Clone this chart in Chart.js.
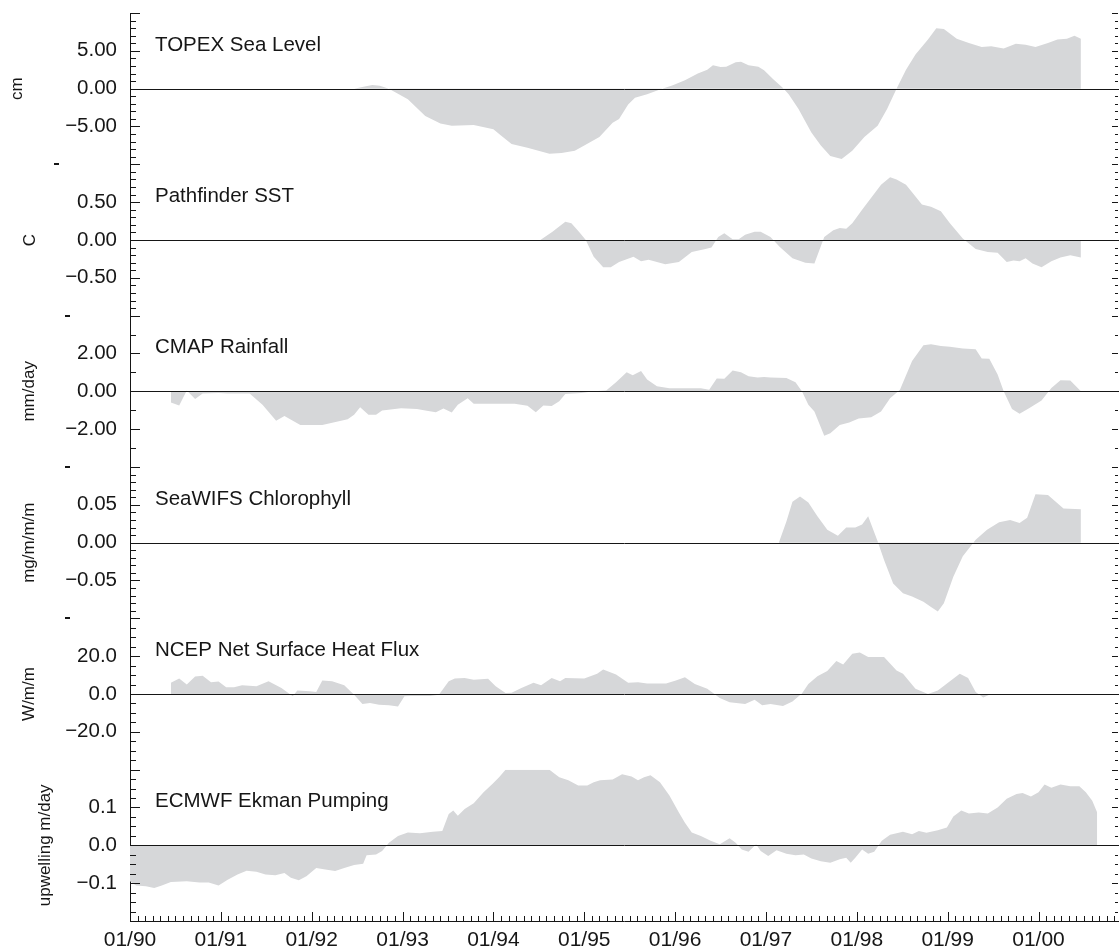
<!DOCTYPE html>
<html>
<head>
<meta charset="utf-8">
<script src="https://cdn.jsdelivr.net/npm/chart.js@4.4.1/dist/chart.umd.min.js"></script>
<style>
  html, body { margin: 0; padding: 0; background: #fff; }
  #c { display: block; }
</style>
</head>
<body>
<canvas id="c" width="1119" height="950"></canvas>
<script>
// Time axis: months since January 1990
const yearLabels = ['01/90','01/91','01/92','01/93','01/94','01/95','01/96','01/97','01/98','01/99','01/00'];

// TOPEX sea level anomaly (cm)
const topexMonths = [29.6, 31, 32, 33, 34.2, 36.7, 39, 41, 42.5, 45.4, 48, 49, 50.4, 52.5, 55.4, 57, 58.75, 60, 62, 63.75, 64.6, 65.8, 66.7, 68.3, 70, 71.7, 73.3, 75, 76.25, 77, 78, 78.75, 80, 80.7, 81.7, 83, 83.75, 85, 86.25, 87, 88.3, 90, 91.25, 92.5, 94, 95.4, 97, 98.75, 100, 101.25, 102.5, 103.75, 105.4, 106.5, 107.5, 109.2, 110.8, 112.5, 113.75, 115.4, 117, 118.3, 119.6, 121.25, 122.5, 123.75, 124.75, 125.6];
const topexValues = [0, 0.3, 0.5, 0.4, 0, -1.4, -3.6, -4.6, -4.9, -4.8, -5.35, -6.2, -7.3, -7.8, -8.6, -8.5, -8.2, -7.5, -6.4, -4.5, -4.0, -2.1, -1.2, -0.75, -0.1, 0.45, 1.1, 2.0, 2.5, 3.1, 2.85, 2.9, 3.5, 3.55, 3.1, 2.9, 2.45, 1.2, 0.1, -0.75, -2.7, -5.8, -7.5, -8.9, -9.3, -8.2, -6.4, -4.9, -2.7, 0, 2.5, 4.5, 6.5, 8.0, 7.9, 6.6, 6.05, 5.5, 5.6, 5.3, 5.95, 5.8, 5.5, 6.05, 6.5, 6.6, 7.0, 6.6];

// Pathfinder SST anomaly (C)
const sstMonths = [54.2, 55.8, 57.5, 58.3, 59.3, 60.2, 61.25, 62.5, 63.5, 64.6, 66.5, 67.5, 68.5, 69.6, 70.7, 72.5, 74.2, 76, 76.8, 77.7, 78.5, 79.6, 80.4, 81.25, 82.5, 83.3, 84.6, 85.8, 87.5, 89.2, 90.4, 91.7, 92.9, 93.75, 94.6, 95.4, 96.7, 97.9, 99.2, 100.4, 101.25, 102.5, 103.3, 104.6, 105.8, 107.1, 108.3, 110, 111.7, 113.3, 114.6, 115.8, 116.7, 117.5, 118.3, 119.2, 120.4, 121.7, 122.9, 124.2, 125.6];
const sstValues = [0, 0.11, 0.24, 0.22, 0.11, 0, -0.22, -0.36, -0.36, -0.29, -0.22, -0.28, -0.26, -0.29, -0.32, -0.29, -0.16, -0.12, -0.10, 0.04, 0.09, 0.01, 0.01, 0.07, 0.11, 0.11, 0.04, -0.09, -0.24, -0.30, -0.31, 0.04, 0.13, 0.16, 0.15, 0.22, 0.40, 0.56, 0.73, 0.83, 0.80, 0.73, 0.63, 0.47, 0.44, 0.38, 0.22, 0.02, -0.12, -0.16, -0.17, -0.29, -0.27, -0.28, -0.24, -0.31, -0.36, -0.28, -0.23, -0.20, -0.23];

// CMAP rainfall anomaly (mm/day)
const cmapMonths = [5.4, 6.5, 7.5, 8.6, 9.6, 11.7, 12.9, 15.8, 17.5, 19.3, 20.4, 22.5, 25.4, 28.75, 29.6, 30.4, 31.5, 32.5, 33.3, 35.8, 37.9, 39.2, 40.4, 41.4, 42.5, 43.3, 44.6, 45.4, 50.8, 52.5, 53.6, 54.6, 55.7, 56.7, 57.5, 59.6, 61.25, 62.9, 64.2, 65.6, 66.4, 67.5, 68.3, 69.6, 71.25, 75.4, 76.5, 77.5, 78.5, 79.6, 80.7, 81.7, 82.9, 83.75, 84.6, 86.7, 87.9, 88.75, 89.6, 90.4, 91.7, 92.5, 93.75, 95, 96.25, 97.9, 99.2, 100.4, 101.7, 103.3, 104.8, 105.8, 107.1, 108.3, 110, 111.7, 112.5, 113.5, 114.6, 115.4, 116.5, 117.5, 118.75, 120.4, 121.7, 122.9, 124.2, 125.6];
const cmapValues = [-0.59, -0.75, 0.05, -0.41, -0.12, -0.09, -0.12, -0.12, -0.71, -1.56, -1.3, -1.78, -1.78, -1.48, -1.24, -0.84, -1.24, -1.24, -1.01, -0.89, -0.94, -1.03, -1.10, -0.91, -1.12, -0.71, -0.36, -0.66, -0.66, -0.76, -1.10, -0.75, -0.77, -0.53, -0.14, -0.09, 0, 0.04, 0.48, 1.01, 0.85, 1.07, 0.62, 0.27, 0.16, 0.16, 0.09, 0.68, 0.66, 1.10, 1.01, 0.80, 0.73, 0.76, 0.73, 0.71, 0.48, 0, -0.71, -1.07, -2.35, -2.22, -1.78, -1.65, -1.44, -1.37, -1.07, -0.36, 0.09, 1.6, 2.44, 2.49, 2.4, 2.36, 2.26, 2.22, 1.74, 1.72, 0.89, 0, -0.94, -1.19, -0.89, -0.48, 0.18, 0.59, 0.57, 0];

// SeaWiFS chlorophyll anomaly (mg/m/m/m)
const chlMonths = [85.7, 86.7, 87.5, 88.5, 89.6, 90.8, 92.1, 93.5, 94.6, 95.8, 96.7, 97.5, 98.75, 99.6, 100.8, 102.1, 103.3, 104.8, 105.8, 106.7, 107.5, 108.75, 110, 111.7, 113.2, 114.8, 116.25, 117.5, 118.5, 119.6, 121.25, 123.3, 125.6];
const chlValues = [0, 0.028, 0.054, 0.061, 0.053, 0.035, 0.017, 0.009, 0.020, 0.020, 0.024, 0.035, 0.002, -0.023, -0.054, -0.067, -0.071, -0.078, -0.085, -0.091, -0.080, -0.045, -0.018, 0.004, 0.017, 0.027, 0.030, 0.026, 0.033, 0.064, 0.063, 0.045, 0.044];

// NCEP net surface heat flux anomaly (W/m/m)
const fluxMonths = [5.4, 6.5, 7.5, 8.6, 9.6, 10.7, 11.7, 12.7, 13.75, 14.8, 16.7, 18.3, 20, 21.5, 22.1, 23.75, 24.6, 25.4, 26.7, 28.3, 29.6, 30.7, 31.7, 32.9, 34.2, 35.4, 36.25, 37.1, 39.6, 40.8, 42.1, 42.9, 44.2, 45.4, 47.3, 48.3, 49.6, 50.4, 51.7, 53.3, 54.3, 55.7, 56.8, 57.5, 60, 61.7, 62.5, 64.2, 65.8, 67.1, 68.3, 70.8, 72.1, 73.3, 74.6, 76.25, 77.9, 79.2, 81.25, 82.5, 83.5, 84.6, 86.25, 87.5, 88.75, 89.6, 90.8, 92.1, 93.3, 94.2, 95.4, 96.4, 97.5, 99.6, 101.25, 102.1, 103.75, 105.4, 106.7, 108.3, 109.6, 110.7, 111.7, 112.7, 113.5, 114];
const fluxValues = [5.9, 8.2, 5.0, 9.2, 9.6, 6.2, 6.6, 3.6, 3.6, 4.6, 4.1, 6.8, 3.2, -1.2, 1.8, 1.4, 1.1, 7.1, 6.8, 4.6, -0.4, -5.3, -4.8, -5.7, -6.0, -6.6, -1.2, -1.1, -1.1, -0.4, 6.8, 8.2, 8.5, 7.5, 8.0, 4.1, 0.5, 0.7, 3.2, 5.9, 4.6, 8.5, 6.8, 8.5, 8.2, 10.7, 13.0, 10.3, 5.9, 6.2, 5.5, 5.5, 7.1, 8.9, 5.3, 2.8, -2.1, -4.3, -5.3, -3.0, -6.0, -5.3, -6.4, -3.9, 0.2, 5.3, 9.4, 12.1, 17.4, 15.6, 21.3, 21.9, 19.6, 19.6, 12.4, 10.7, 2.8, 0, 1.8, 6.8, 10.7, 8.5, 1.1, -1.8, -0.4, 0];

// ECMWF Ekman pumping (upwelling m/day)
const ekmanMonths = [0, 0.8, 2.1, 3.2, 4.2, 5.4, 7.5, 9.2, 10.4, 11.7, 12.9, 14.2, 15.4, 16.7, 17.9, 19.2, 20.4, 21.25, 22.3, 23.3, 24.6, 25.8, 27.1, 28.3, 29.6, 30.8, 31.25, 32.5, 33.3, 34.2, 35.4, 36.7, 38.3, 40, 41.25, 42.1, 42.7, 43.3, 44.2, 45.4, 46.7, 47.9, 48.75, 49.6, 55.4, 56.7, 57.9, 59.2, 60.4, 61.25, 62.1, 63.75, 65, 66.25, 67.1, 67.9, 68.75, 70, 71.25, 72.5, 73.3, 74.2, 75.4, 76.7, 77.9, 79.2, 80, 80.8, 81.7, 82.7, 83.3, 84.3, 85.4, 86.7, 87.9, 89, 90, 91.25, 92.5, 93.75, 94.6, 95.2, 95.8, 96.7, 97.5, 98.3, 99.3, 100.4, 102.1, 103.3, 104.2, 105.2, 106.7, 107.9, 108.75, 109.8, 110.8, 112.1, 113.3, 114.6, 115.8, 117.1, 117.9, 119, 120, 120.8, 121.7, 122.9, 124.2, 125.4, 126.25, 127.1, 127.75];
const ekmanValues = [-0.095, -0.106, -0.108, -0.113, -0.106, -0.097, -0.095, -0.098, -0.098, -0.106, -0.091, -0.077, -0.067, -0.070, -0.077, -0.079, -0.073, -0.086, -0.092, -0.082, -0.060, -0.064, -0.068, -0.060, -0.052, -0.049, -0.026, -0.024, -0.015, 0.007, 0.025, 0.034, 0.032, 0.036, 0.038, 0.083, 0.092, 0.078, 0.096, 0.111, 0.140, 0.163, 0.180, 0.2, 0.2, 0.180, 0.172, 0.158, 0.158, 0.167, 0.172, 0.174, 0.188, 0.182, 0.172, 0.180, 0.185, 0.167, 0.132, 0.087, 0.060, 0.034, 0.025, 0.012, 0.003, 0.019, 0.007, -0.011, -0.017, 0.003, -0.015, -0.028, -0.013, -0.022, -0.026, -0.024, -0.035, -0.042, -0.046, -0.037, -0.033, -0.046, -0.033, -0.011, -0.022, -0.017, 0.012, 0.028, 0.036, 0.029, 0.038, 0.033, 0.040, 0.047, 0.076, 0.092, 0.084, 0.087, 0.084, 0.100, 0.123, 0.136, 0.138, 0.129, 0.140, 0.161, 0.152, 0.161, 0.156, 0.156, 0.140, 0.118, 0.087];

// Panel descriptions, top to bottom
const panelTitles = ['TOPEX Sea Level', 'Pathfinder SST', 'CMAP Rainfall', 'SeaWIFS Chlorophyll', 'NCEP Net Surface Heat Flux', 'ECMWF Ekman Pumping'];
const unitTitles = ['cm', 'C', 'mm/day', 'mg/m/m/m', 'W/m/m', 'upwelling m/day'];
const axisLimits = [10, 1, 4, 0.1, 40, 0.2];
const majorSteps = [5, 0.5, 2, 0.05, 20, 0.1];
const minorSteps = [1, 0.1, 1, 0.01, 5, 0.025];
const labelDecimals = [2, 2, 2, 2, 1, 1];
const seriesMonths = [topexMonths, sstMonths, cmapMonths, chlMonths, fluxMonths, ekmanMonths];
const seriesValues = [topexValues, sstValues, cmapValues, chlValues, fluxValues, ekmanValues];

// Styling
const FONT = '"Liberation Sans", Arial, Helvetica, sans-serif';
const INK = '#161616';
const FILL = '#d6d7d9';
const titleOffsets = [7.3, 19.8, 18.8, 18.8, 18.8, 35.3];
const edgeDash = [true, true, true, true, false, false];
const LABEL_PAD = 13;

Chart.defaults.font.family = FONT;
Chart.defaults.color = INK;

function fmtTick(v, i) {
  if (Math.abs(v) < 1e-9) v = 0;
  const s = Math.abs(v).toFixed(labelDecimals[i]);
  return v < 0 ? '\u2212' + s : s;
}

function noOverflow(s) {
  s.paddingTop = 0;
  s.paddingBottom = 0;
  s.paddingLeft = 0;
  s.paddingRight = 0;
}

const datasets = seriesValues.map((vals, i) => ({
  label: panelTitles[i],
  data: vals.map((v, k) => ({ x: seriesMonths[i][k], y: v })),
  yAxisID: 'y' + i,
  xAxisID: 'x',
  fill: 'origin',
  backgroundColor: FILL,
  borderColor: 'rgba(0,0,0,0)',
  borderWidth: 0,
  pointRadius: 0,
  tension: 0
}));

const scales = {
  x: {
    type: 'linear',
    position: 'bottom',
    min: 0,
    max: 130.5,
    grid: { display: false, drawTicks: false },
    border: { display: true, color: INK, width: 1 },
    ticks: {
      stepSize: 12,
      includeBounds: false,
      autoSkip: false,
      maxRotation: 0,
      padding: 7,
      color: INK,
      font: { size: 21 },
      callback: v => yearLabels[Math.round(v / 12)] || ''
    },
    afterFit: s => { s.height = 29; noOverflow(s); }
  }
};

panelTitles.forEach((t, i) => {
  const lim = axisLimits[i];
  scales['y' + i] = {
    type: 'linear',
    position: 'left',
    stack: 'panels',
    stackWeight: 1,
    weight: 6 - i,
    min: -lim,
    max: lim,
    grid: { display: false, drawTicks: false },
    border: { display: true, color: INK, width: 1 },
    ticks: {
      stepSize: majorSteps[i],
      autoSkip: false,
      padding: LABEL_PAD,
      color: INK,
      font: { size: 20.5 },
      callback: v => (Math.abs(Math.abs(v) - lim) < 1e-9 ? '' : fmtTick(v, i))
    },
    title: {
      display: true,
      text: unitTitles[i],
      color: INK,
      font: { size: 17 },
      padding: { top: titleOffsets[i], bottom: 0 }
    },
    afterFit: s => { s.width = 130; noOverflow(s); }
  };
});

// Zero lines, inward tick marks, panel names and edge marks
const panelDecor = {
  id: 'panelDecor',
  afterDatasetsDraw(chart) {
    const { ctx, chartArea: a } = chart;
    ctx.save();
    ctx.strokeStyle = INK;
    ctx.lineWidth = 1;
    panelTitles.forEach((t, i) => {
      const s = chart.scales['y' + i];
      const y = Math.round(s.getPixelForValue(0)) + 0.5;
      ctx.beginPath();
      ctx.moveTo(a.left, y);
      ctx.lineTo(chart.width, y);
      ctx.stroke();
    });
    ctx.restore();
  },
  afterDraw(chart) {
    const { ctx, chartArea: a } = chart;
    const xs = chart.scales.x;
    ctx.save();
    ctx.strokeStyle = INK;
    ctx.fillStyle = INK;
    ctx.lineWidth = 1;

    panelTitles.forEach((title, i) => {
      const s = chart.scales['y' + i];
      const lim = axisLimits[i];
      const n = Math.round(2 * lim / minorSteps[i]);
      const per = Math.round(majorSteps[i] / minorSteps[i]);
      ctx.beginPath();
      for (let k = 0; k <= n; k++) {
        const v = -lim + k * minorSteps[i];
        const y = Math.round(s.getPixelForValue(v)) + 0.5;
        const major = k % per === 0;
        ctx.moveTo(a.left, y);
        ctx.lineTo(a.left + (major ? 10 : 6), y);
        ctx.moveTo(a.right, y);
        ctx.lineTo(a.right - (major ? 6 : 3), y);
      }
      ctx.stroke();

      // panel name
      ctx.font = '20.5px ' + FONT;
      ctx.textAlign = 'left';
      ctx.textBaseline = 'middle';
      ctx.fillText(title, a.left + 25, s.top + 32);

      // leftover minus mark of the lowest tick label
      if (edgeDash[i]) {
        const full = fmtTick(-lim, i);
        const w = ctx.measureText(full).width;
        const yb = Math.round(s.getPixelForValue(-lim));
        ctx.fillRect(Math.round(s.right - LABEL_PAD - w), yb - 1, 5, 2);
      }
    });

    // monthly ticks on the time axis
    ctx.beginPath();
    for (let m = 0; m <= 130; m++) {
      const x = Math.round(xs.getPixelForValue(m)) + 0.5;
      const major = m % 12 === 0;
      ctx.moveTo(x, a.bottom);
      ctx.lineTo(x, a.bottom - (major ? 9 : 5));
    }
    ctx.stroke();
    ctx.restore();
  }
};

new Chart(document.getElementById('c'), {
  type: 'line',
  data: { datasets },
  options: {
    responsive: false,
    animation: false,
    devicePixelRatio: 1,
    layout: { padding: { top: 13, right: 1, bottom: 0, left: 0 } },
    plugins: { legend: { display: false }, tooltip: { enabled: false } },
    scales
  },
  plugins: [panelDecor]
});
</script>
</body>
</html>
